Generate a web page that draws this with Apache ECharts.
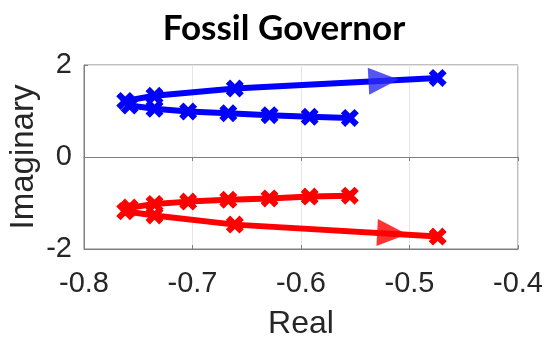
<!DOCTYPE html>
<html><head><meta charset="utf-8">
<script src="https://cdn.jsdelivr.net/npm/echarts@6/dist/echarts.min.js"></script>
<style>html,body{margin:0;padding:0;background:#fff}#c{width:550px;height:340px}</style>
</head><body><div id="c"></div>
<script>
const titleText = 'Fossil Governor';
const xName = 'Real';
const yName = 'Imaginary';
const blueRe = [-0.555, -0.592, -0.629, -0.667, -0.704, -0.735, -0.758, -0.762, -0.735, -0.661, -0.474];
const blueIm = [0.85, 0.875, 0.91, 0.95, 0.99, 1.05, 1.12, 1.22, 1.33, 1.49, 1.72];
const redRe = [-0.555, -0.592, -0.629, -0.667, -0.704, -0.735, -0.758, -0.762, -0.735, -0.661, -0.474];
const redIm = [-0.84, -0.86, -0.90, -0.93, -0.97, -1.02, -1.10, -1.18, -1.27, -1.47, -1.73];
const blueArrow = [-0.524, 1.665];
const redArrow = [-0.516, -1.66];
const xTicks = [-0.8, -0.7, -0.6, -0.5, -0.4];
const yTicks = [-2, 0, 2];

const X = 'path://M0,2.4L2.4,0L5,2.6L7.6,0L10,2.4L7.4,5L10,7.6L7.6,10L5,7.4L2.4,10L0,7.6L2.6,5Z';
const zip = (a, b) => a.map((v, i) => [v, b[i]]);
const chart = echarts.init(document.getElementById('c'));
const axisCol = '#7f7f7f';
const labelFont = {fontFamily: 'Liberation Sans', fontSize: 29, color: '#262626'};
function line(data, color) {
  return {type: 'line', data, symbol: X, symbolSize: 18, showSymbol: true,
    lineStyle: {color, width: 6}, itemStyle: {color}, z: 3, animation: false};
}
chart.setOption({
  animation: false,
  title: {text: titleText, left: 279, top: 6, textAlign: 'center',
    textStyle: {fontFamily: 'Lato', fontWeight: 'bold', fontSize: 35, color: '#000'}},
  grid: {left: 84, right: 32, top: 65, bottom: 91, show: true, borderColor: axisCol, borderWidth: 1,
    containLabel: false, outerBoundsMode: 'none'},
  xAxis: [{type: 'value', min: xTicks[0], max: xTicks[xTicks.length - 1], interval: 0.1,
    name: xName, nameLocation: 'middle', nameGap: 59, nameMoveOverlap: false,
    nameTextStyle: {fontFamily: 'Liberation Sans', fontSize: 32, color: '#262626'},
    axisLine: {show: true, onZero: false, lineStyle: {color: axisCol}},
    axisTick: {show: true, inside: true, length: 4, lineStyle: {color: axisCol}},
    axisLabel: Object.assign({margin: 20, formatter: v => v.toFixed(1)}, labelFont),
    splitLine: {show: true, lineStyle: {color: '#e6e6e6'}}},
   {type: 'value', position: 'top', min: xTicks[0], max: xTicks[xTicks.length - 1], interval: 0.1,
    axisLine: {show: true, lineStyle: {color: axisCol}},
    axisTick: {show: true, inside: true, length: 4, lineStyle: {color: axisCol}},
    axisLabel: {show: false}, splitLine: {show: false}}],
  yAxis: {type: 'value', min: yTicks[0], max: yTicks[yTicks.length - 1], interval: 2,
    name: yName, nameLocation: 'middle', nameGap: 44, nameMoveOverlap: false,
    nameTextStyle: {fontFamily: 'Liberation Sans', fontSize: 33, color: '#262626'},
    axisLine: {show: true, onZero: false, lineStyle: {color: axisCol}},
    axisTick: {show: true, inside: true, length: 4, lineStyle: {color: axisCol}},
    axisLabel: Object.assign({margin: 12}, labelFont),
    splitLine: {show: true, lineStyle: {color: '#e6e6e6'}}},
  series: [
    line(zip(blueRe, blueIm), '#0000ff'),
    line(zip(redRe, redIm), '#ff0000'),
    {type: 'scatter', data: [blueArrow], symbol: 'triangle', symbolSize: [27, 30], symbolRotate: -87,
      itemStyle: {color: '#2b2bf0'}, z: 4},
    {type: 'scatter', data: [redArrow], symbol: 'triangle', symbolSize: [27, 30], symbolRotate: -93,
      itemStyle: {color: '#ff0000'}, z: 4}
  ]
});
</script></body></html>
